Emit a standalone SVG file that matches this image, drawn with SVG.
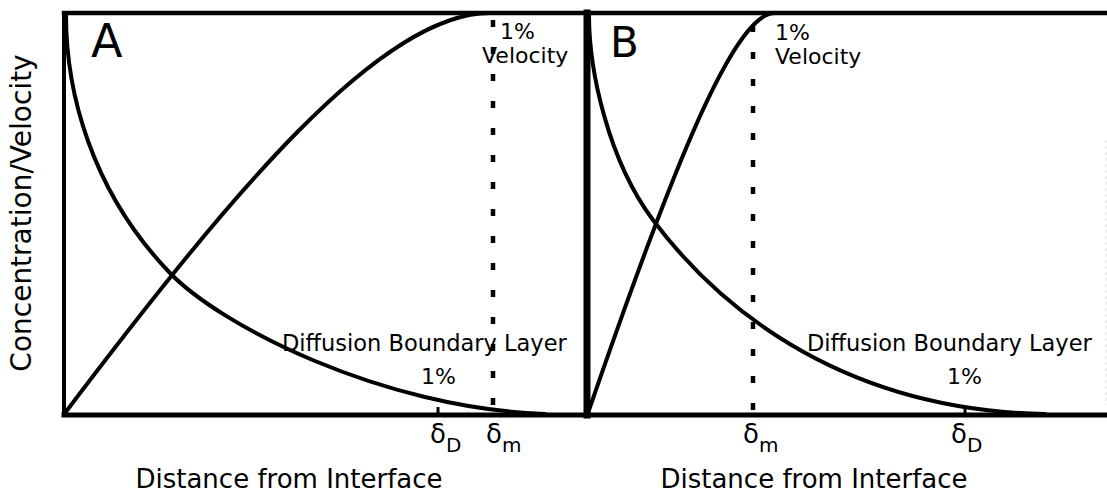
<svg xmlns="http://www.w3.org/2000/svg" width="1107" height="495" viewBox="0 0 1107 495">
<style>
.ax{stroke:#000;fill:none;stroke-linecap:square}
.cv{stroke:#000;stroke-width:4;fill:none;stroke-linecap:round}
.dash{stroke:#000;stroke-width:4.5;stroke-dasharray:7 20;fill:none}
.tick{stroke:#000;stroke-width:3}
text{font-family:"DejaVu Sans","Liberation Sans",sans-serif;fill:#000}
.lbl{font-size:22px}
.big{font-size:26px}
.dl{font-size:26px}
.sub{font-size:20px}
</style>
<rect width="1107" height="495" fill="#fff"/>
<g id="frame">
<line class="ax" x1="64" y1="13" x2="1107" y2="13" stroke-width="4.5"/>
<line class="ax" x1="64" y1="13" x2="64" y2="415" stroke-width="4"/>
<line class="ax" x1="64" y1="415" x2="1107" y2="415" stroke-width="5"/>
<line class="ax" x1="587" y1="13" x2="587" y2="415" stroke-width="7"/>
<line x1="1106" y1="140" x2="1106" y2="405" stroke="#ddd" stroke-width="1" stroke-dasharray="3 3"/>
<text transform="translate(31,213) rotate(-90)" x="0" y="0" style="font-size:28px" text-anchor="middle">Concentration/Velocity</text>
</g>
<g id="panelA">
<text x="91" y="57" style="font-size:46px">A</text>
<text class="lbl" x="500" y="39">1%</text>
<text class="lbl" x="482" y="63">Velocity</text>
<text class="lbl" x="282" y="351" style="font-size:22.5px">Diffusion Boundary Layer</text>
<text class="lbl" x="421" y="384">1%</text>
<text class="dl" x="430" y="443">δ<tspan class="sub" dy="9">D</tspan></text>
<text class="dl" x="486" y="443">δ<tspan class="sub" dy="9">m</tspan></text>
<text class="big" x="289" y="488" text-anchor="middle">Distance from Interface</text>
</g>
<g id="panelB">
<text x="610" y="57" style="font-size:42px">B</text>
<text class="lbl" x="775" y="40">1%</text>
<text class="lbl" x="775" y="64">Velocity</text>
<text class="lbl" x="807" y="351" style="font-size:22.5px">Diffusion Boundary Layer</text>
<text class="lbl" x="947" y="384">1%</text>
<text class="dl" x="743" y="443">δ<tspan class="sub" dy="9">m</tspan></text>
<text class="dl" x="951" y="443">δ<tspan class="sub" dy="9">D</tspan></text>
<text class="big" x="814" y="488" text-anchor="middle">Distance from Interface</text>
</g>
<g id="connectors">
<path id="velA" class="cv" d="M65,413 C230,195 380,13 490,13"/>
<path id="concA" class="cv" d="M66,15 C66,90 90,190 170,273 C220,325 380,408 545,414"/>
<line id="dashA" class="dash" x1="493" y1="20" x2="493" y2="405"/>
<line class="tick" x1="438" y1="407" x2="438" y2="414"/>
<path id="velB" class="cv" d="M588,413 C675,160 735,13 775,13"/>
<path id="concB" class="cv" d="M589,15 C589,70 608,160 653,220 C710,296 830,410 1045,414"/>
<line id="dashB" class="dash" x1="753" y1="25" x2="753" y2="410"/>
<line class="tick" x1="965" y1="406" x2="965" y2="414"/>
</g>
</svg>
